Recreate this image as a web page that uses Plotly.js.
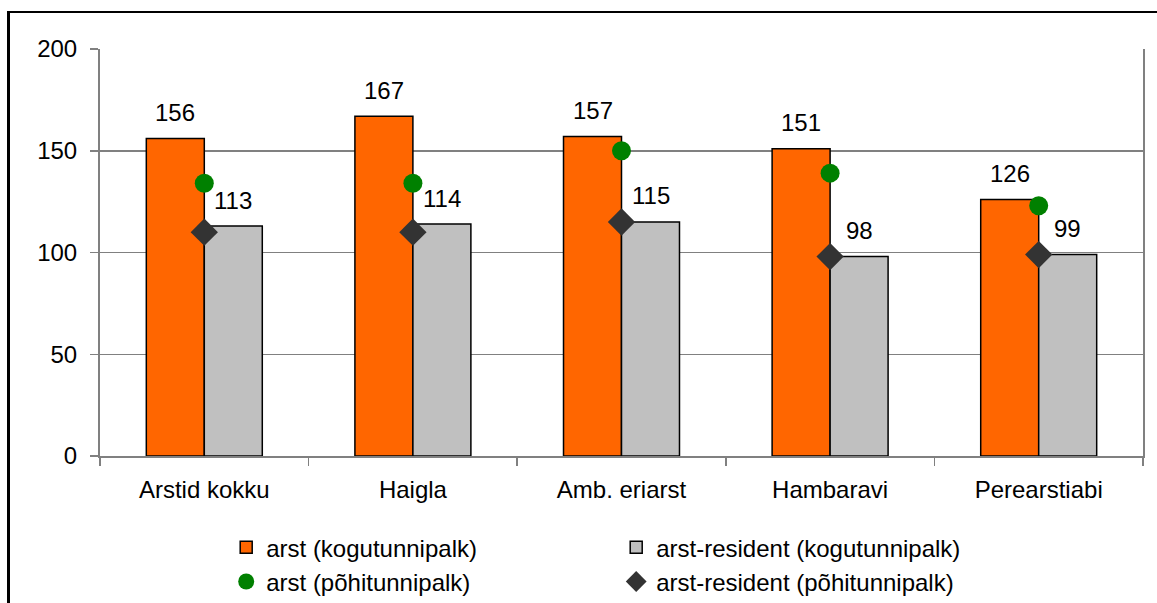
<!DOCTYPE html>
<html>
<head>
<meta charset="utf-8">
<script src="https://cdn.plot.ly/plotly-3.0.1.min.js"></script>
<style>
  html, body { margin: 0; padding: 0; background: #fff; overflow: hidden; }
  #chart { width: 1157px; height: 640px; }
  #frame { position: absolute; left: 7px; top: 11px; width: 3000px; height: 3000px;
           border-left: 3px solid #000; border-top: 2px solid #000; pointer-events: none; }
</style>
</head>
<body>
<div id="chart"></div>
<div id="frame"></div>
<script>
const categories = ["Arstid kokku", "Haigla", "Amb. eriarst", "Hambaravi", "Perearstiabi"];
const arstTotal = [156, 167, 157, 151, 126];
const residentTotal = [113, 114, 115, 98, 99];
const arstBase = [134, 134, 150, 139, 123];
const residentBase = [110, 110, 115, 98, 99];
const seriesNames = ["arst (kogutunnipalk)", "arst-resident (kogutunnipalk)", "arst (põhitunnipalk)", "arst-resident (põhitunnipalk)"];
const yTicks = [0, 50, 100, 150, 200];

const FONT = "Liberation Sans, Arial, sans-serif";
const FS = 24;

const traces = [
  { type: "bar", name: seriesNames[0], x: categories, y: arstTotal,
    marker: { color: "#FF6600", line: { color: "#000", width: 1.5 } }, hoverinfo: "skip" },
  { type: "bar", name: seriesNames[1], x: categories, y: residentTotal,
    marker: { color: "#C0C0C0", line: { color: "#000", width: 1.5 } }, hoverinfo: "skip" },
  { type: "scatter", mode: "markers", name: seriesNames[2], x: categories, y: arstBase,
    marker: { color: "#008000", symbol: "circle", size: 19 }, hoverinfo: "skip" },
  { type: "scatter", mode: "markers", name: seriesNames[3], x: categories, y: residentBase,
    marker: { color: "#333333", symbol: "diamond", size: 21 }, hoverinfo: "skip" }
];

const annotations = [];
categories.forEach((c, i) => {
  annotations.push({ x: c, y: arstTotal[i], xref: "x", yref: "y", text: String(arstTotal[i]),
    showarrow: false, xshift: -29, yshift: 26, yanchor: "middle", font: { family: FONT, size: FS, color: "#000" } });
  annotations.push({ x: c, y: residentTotal[i], xref: "x", yref: "y", text: String(residentTotal[i]),
    showarrow: false, xshift: 29, yshift: 26, yanchor: "middle", font: { family: FONT, size: FS, color: "#000" } });
});

const layout = {
  width: 1157, height: 640,
  margin: { l: 100, r: 14, t: 49, b: 184 },
  paper_bgcolor: "rgba(0,0,0,0)", plot_bgcolor: "#fff",
  font: { family: FONT, size: FS, color: "#000" },
  barmode: "group", bargap: 0.444, bargroupgap: 0,
  showlegend: true,
  legend: { orientation: "h", x: 0.121, xanchor: "left", y: -0.17, yanchor: "top",
            entrywidth: 345, entrywidthmode: "pixels", font: { family: FONT, size: FS, color: "#000" },
            bgcolor: "rgba(0,0,0,0)", traceorder: "normal" },
  xaxis: { type: "category", showgrid: false, showline: true, linecolor: "#808080", linewidth: 1.5,
           ticks: "outside", tickson: "boundaries", ticklen: 8, tickcolor: "#808080", tickwidth: 1.5,
           ticklabelstandoff: 12, zeroline: false, fixedrange: true },
  yaxis: { range: [0, 200], tickvals: yTicks, ticktext: yTicks.map(String),
           showgrid: true, gridcolor: "#808080", gridwidth: 1.5,
           showline: true, mirror: true, linecolor: "#808080", linewidth: 2,
           ticks: "outside", ticklen: 8, tickcolor: "#808080", tickwidth: 1.5,
           ticklabelstandoff: 8, zeroline: false, fixedrange: true },
  annotations: annotations
};

Plotly.newPlot("chart", traces, layout, { staticPlot: true, displayModeBar: false });
</script>
</body>
</html>
